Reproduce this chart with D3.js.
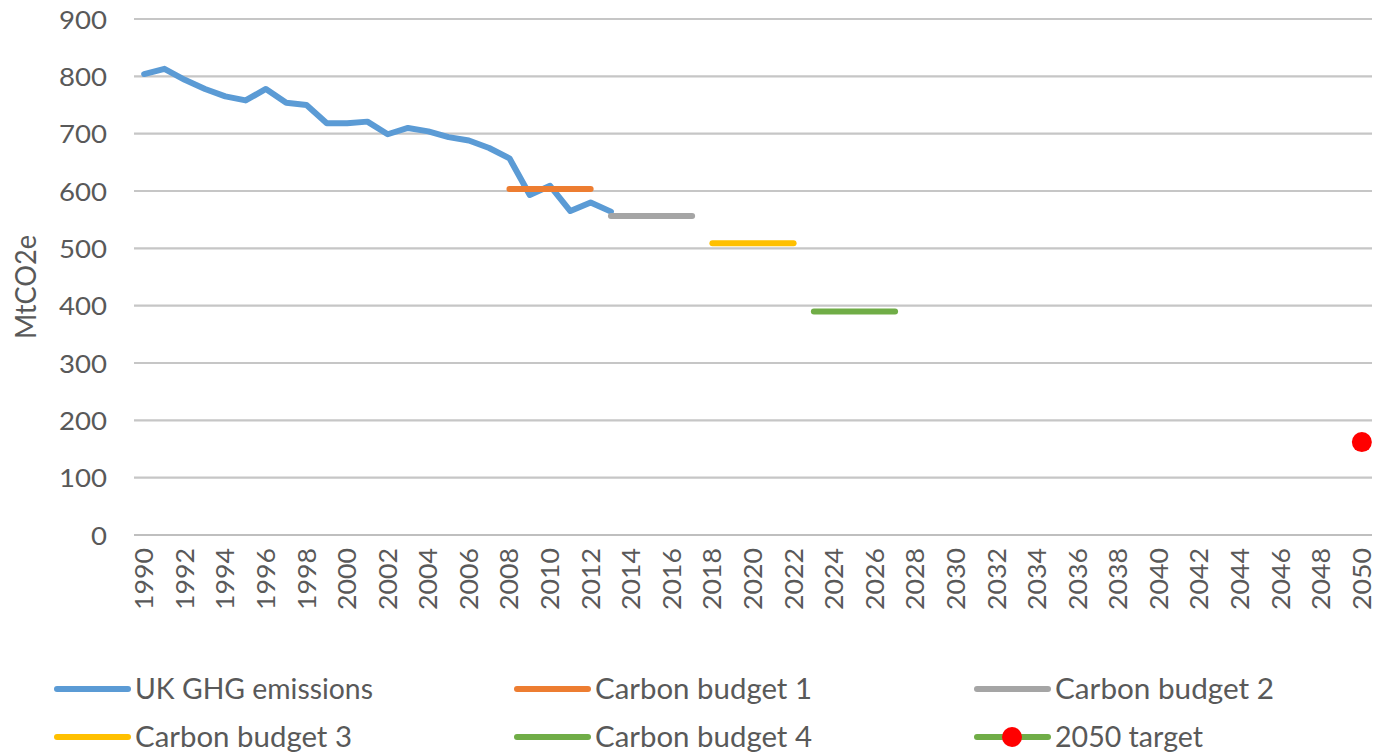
<!DOCTYPE html>
<html>
<head>
<meta charset="utf-8">
<script src="https://cdn.jsdelivr.net/npm/d3@7"></script>
<style>
  html, body { margin: 0; padding: 0; background: #fff; }
  svg { display: block; }
  text { font-family: Lato, "Liberation Sans", Arial, sans-serif; fill: #595959; }
</style>
</head>
<body>
<svg id="chart" width="1376" height="753"></svg>
<script>
// Years on the category axis
const years = d3.range(1990, 2051);
const tickYears = years.filter(y => (y - 1990) % 2 === 0);
const yTicks = [0, 100, 200, 300, 400, 500, 600, 700, 800, 900];

// UK greenhouse gas emissions, MtCO2e, 1990-2013
const emissionYears = d3.range(1990, 2014);
const emissions = [804, 813, 794, 778, 765, 758, 778, 754, 750, 718, 718, 721,
                   699, 710, 704, 694, 688, 675, 657, 593, 609, 565, 580, 564];

// Carbon budgets: annual average over each five-year period
const budgetNames = ["Carbon budget 1", "Carbon budget 2", "Carbon budget 3", "Carbon budget 4"];
const budgetStarts = [2008, 2013, 2018, 2023];
const budgetEnds = [2012, 2017, 2022, 2027];
const budgetValues = [603.6, 556.4, 508.8, 390];
const budgetColors = ["#ED7D31", "#A5A5A5", "#FFC000", "#70AD47"];

// 2050 target
const targetYear = 2050;
const targetValue = 162;

const svg = d3.select("#chart");

const x = d3.scaleBand().domain(years).range([134, 1372]).padding(0);
const cx = yr => x(yr) + x.bandwidth() / 2;
const y = d3.scaleLinear().domain([0, 900]).range([535, 19]);

// Horizontal gridlines
svg.append("g")
  .selectAll("line")
  .data(yTicks)
  .join("line")
  .attr("x1", 134).attr("x2", 1372)
  .attr("y1", d => y(d)).attr("y2", d => y(d))
  .attr("stroke", d => d === 0 ? "#BFBFBF" : "#C6C6C6")
  .attr("stroke-width", 2.2);

// Y axis labels
const yAxis = d3.axisLeft(y).tickValues(yTicks).tickSize(0).tickPadding(0);
const yg = svg.append("g").attr("transform", "translate(107,0)").call(yAxis);
yg.select(".domain").remove();
yg.selectAll("text")
  .attr("font-family", null)
  .attr("font-size", 25)
  .attr("fill", "#595959")
  .attr("dy", "0.36em")
  .attr("textLength", d => String(d).length * 16)
  .attr("lengthAdjust", "spacingAndGlyphs");

// Y axis title
svg.append("text")
  .attr("transform", "translate(36,287) rotate(-90)")
  .attr("text-anchor", "middle")
  .attr("font-size", 28)
  .attr("textLength", 104)
  .attr("lengthAdjust", "spacingAndGlyphs")
  .text("MtCO2e");

// X axis labels (every second year, rotated)
const xAxis = d3.axisBottom(x).tickValues(tickYears).tickSize(0).tickPadding(0);
const xg = svg.append("g").attr("transform", "translate(0,548)").call(xAxis);
xg.select(".domain").remove();
xg.selectAll("text")
  .attr("font-family", null)
  .attr("font-size", 25)
  .attr("fill", "#595959")
  .attr("transform", "rotate(-90)")
  .attr("text-anchor", "end")
  .attr("x", 0)
  .attr("y", 0)
  .attr("dy", "0.36em")
  .attr("textLength", 62)
  .attr("lengthAdjust", "spacingAndGlyphs");
svg.selectAll("g").attr("font-family", null);

// Emissions line
const line = d3.line().x((d, i) => cx(emissionYears[i])).y(d => y(d));
svg.append("path")
  .datum(emissions)
  .attr("d", line)
  .attr("fill", "none")
  .attr("stroke", "#5B9BD5")
  .attr("stroke-width", 6)
  .attr("stroke-linejoin", "round")
  .attr("stroke-linecap", "round");

// Carbon budget segments
svg.append("g")
  .selectAll("line")
  .data(budgetValues)
  .join("line")
  .attr("x1", (d, i) => cx(budgetStarts[i]))
  .attr("x2", (d, i) => cx(budgetEnds[i]))
  .attr("y1", d => y(d)).attr("y2", d => y(d))
  .attr("stroke", (d, i) => budgetColors[i])
  .attr("stroke-width", 6)
  .attr("stroke-linecap", "round");

// 2050 target marker
svg.append("circle")
  .attr("cx", cx(targetYear))
  .attr("cy", y(targetValue))
  .attr("r", 10)
  .attr("fill", "#FF0000");

// Legend
const legendItems = [
  { name: "UK GHG emissions", color: "#5B9BD5", width: 238 },
  { name: budgetNames[0], color: budgetColors[0], width: 217 },
  { name: budgetNames[1], color: budgetColors[1], width: 219 },
  { name: budgetNames[2], color: budgetColors[2], width: 217 },
  { name: budgetNames[3], color: budgetColors[3], width: 217 },
  { name: "2050 target", color: "#70AD47", width: 148, marker: "#FF0000" }
];
const legend = svg.append("g")
  .selectAll("g")
  .data(legendItems)
  .join("g")
  .attr("transform", (d, i) => `translate(${55 + (i % 3) * 460},${689 + Math.floor(i / 3) * 48})`);
legend.append("line")
  .attr("x1", 2).attr("x2", 73)
  .attr("stroke", d => d.color)
  .attr("stroke-width", 6)
  .attr("stroke-linecap", "round");
legend.filter(d => d.marker).append("circle")
  .attr("cx", 37).attr("r", 10)
  .attr("fill", d => d.marker);
legend.append("text")
  .attr("x", 80)
  .attr("dy", "0.36em")
  .attr("font-size", 28)
  .attr("textLength", d => d.width)
  .attr("lengthAdjust", "spacingAndGlyphs")
  .text(d => d.name);
</script>
</body>
</html>
